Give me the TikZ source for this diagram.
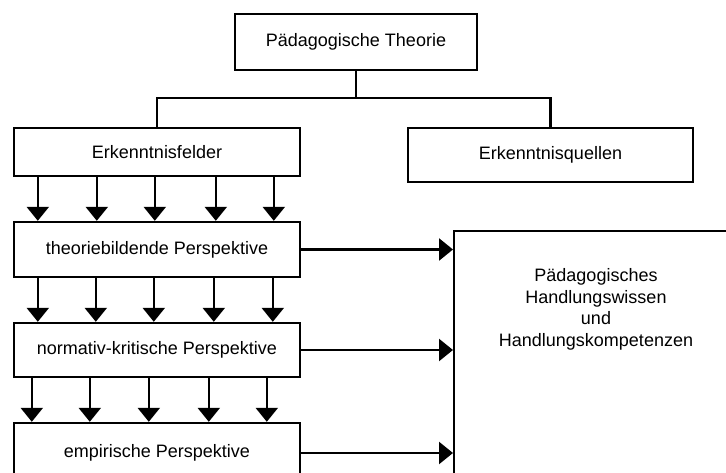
\documentclass[tikz,border=0pt]{standalone}
\usepackage{fontspec}
\setmainfont{Liberation Sans}
\usetikzlibrary{arrows.meta,calc}
\begin{document}
\begin{tikzpicture}[x=1pt,y=-1pt,
  box/.style={draw,line width=2.4pt,inner sep=0pt,font=\fontsize{18}{21.7}\selectfont},
  link/.style={line width=2.4pt},
  arr/.style={line width=2.4pt,-{Triangle[width=22pt,length=14pt]}}]
\useasboundingbox (0,0) rectangle (726,473);
\clip (0,0) rectangle (726,473);
% boxes
\node[box,minimum width=242pt,minimum height=56pt] (top) at (356,42) {Pädagogische Theorie};
\node[box,minimum width=286pt,minimum height=48pt] (ef) at (157,152) {Erkenntnisfelder};
\node[box,minimum width=285pt,minimum height=54pt] (eq) at (550.5,155) {Erkenntnisquellen};
\node[box,minimum width=286pt,minimum height=55pt] (tb) at (157,249.5) {theoriebildende Perspektive};
\node[box,minimum width=286pt,minimum height=54pt] (nk) at (157,350) {normativ-kritische Perspektive};
\node[box,minimum width=286pt,minimum height=60pt] (ep) at (157,453) {empirische Perspektive};
\node[box,anchor=north west,minimum width=290pt,minimum height=270pt] (big) at (453,230) {};
\node[font=\fontsize{18}{21.7}\selectfont,align=center,anchor=north] (bigtext) at (596,265)
  {Pädagogisches\\Handlungswissen\\und\\Handlungskompetenzen};
% tree connectors
\coordinate (j) at (356,98);
\draw[link] (top.south) -- (j);
\draw[link] (ef.north) |- (j) -| (eq.north);
% vertical arrows
\foreach \i/\d in {1/25,2/84,3/142,4/203,5/261}{
  \path (ef.south west) ++(\d,0) coordinate (a\i);
  \draw[arr] (a\i) -- (a\i |- tb.north);
}
\foreach \i/\d in {1/25,2/83,3/141,4/201,5/260}{
  \path (tb.south west) ++(\d,0) coordinate (b\i);
  \draw[arr] (b\i) -- (b\i |- nk.north);
}
\foreach \i/\d in {1/19,2/77,3/136,4/196,5/254}{
  \path (nk.south west) ++(\d,0) coordinate (c\i);
  \draw[arr] (c\i) -- (c\i |- ep.north);
}
% horizontal arrows
\draw[arr] (tb.east) -- (tb.east -| big.west);
\draw[arr] (nk.east) -- (nk.east -| big.west);
\draw[arr] (ep.east) -- (ep.east -| big.west);
\end{tikzpicture}
\end{document}
